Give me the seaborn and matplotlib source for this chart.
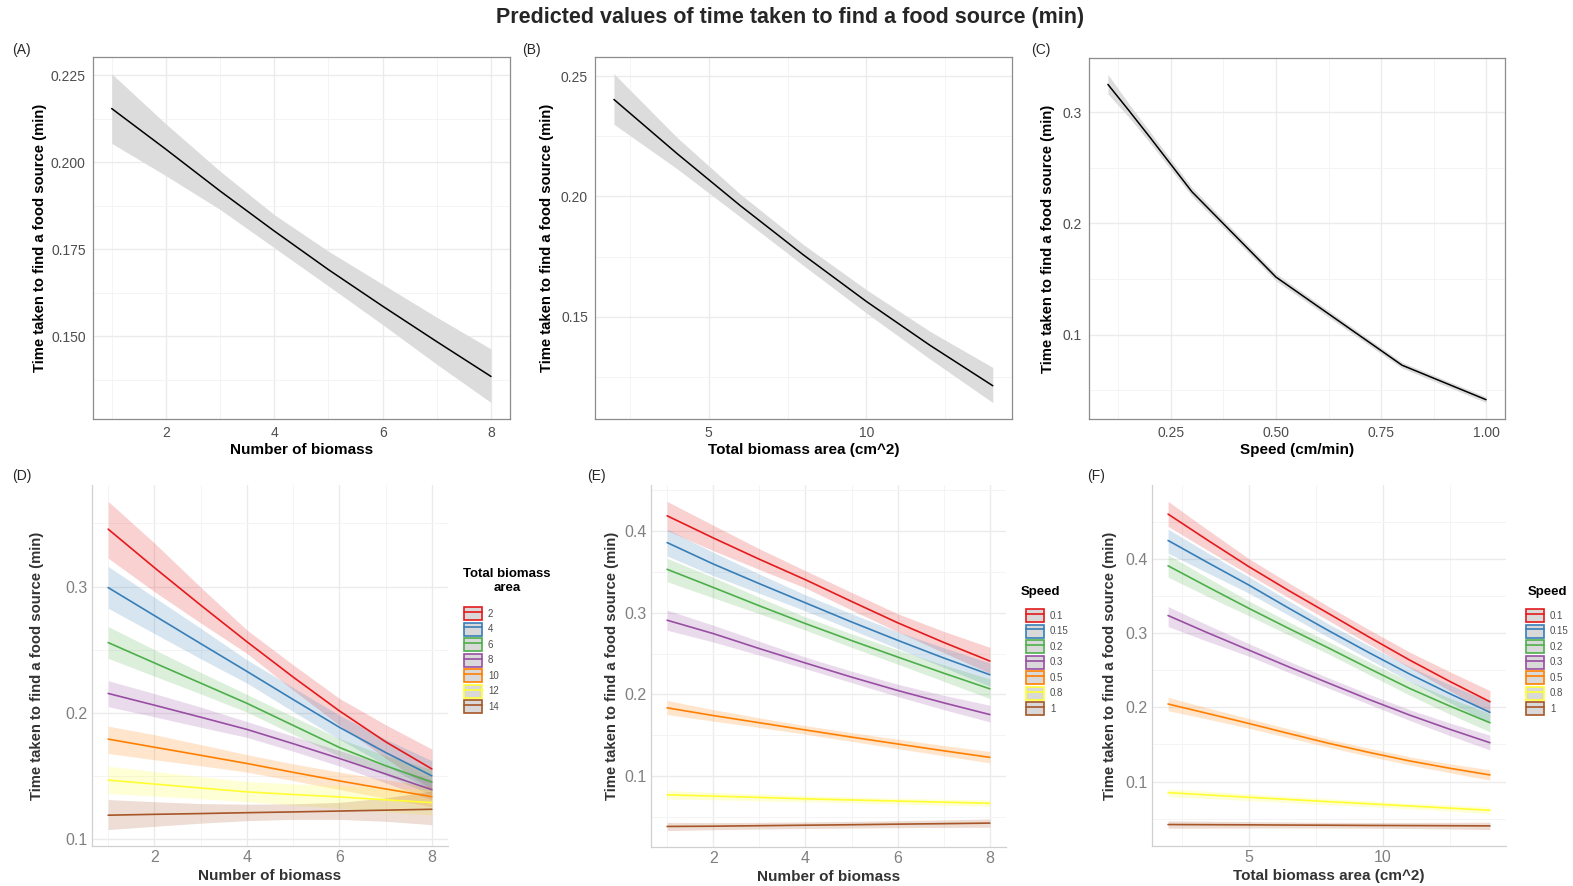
import matplotlib
matplotlib.use("Agg")
import matplotlib.pyplot as plt
from matplotlib.ticker import FixedLocator, MultipleLocator, FormatStrFormatter
from matplotlib.patches import Patch
from matplotlib.lines import Line2D
import seaborn as sns
import pandas as pd

# ---------------- data ----------------
A_x = [1, 2, 3, 4, 5, 6, 7, 8]
A_fit = [0.2155, 0.2038, 0.1918, 0.1803, 0.1692, 0.1587, 0.1485, 0.1385]
A_lo = [0.2055, 0.1962, 0.1865, 0.1755, 0.1645, 0.1534, 0.1420, 0.1310]
A_hi = [0.2255, 0.2111, 0.1975, 0.1850, 0.1745, 0.1650, 0.1555, 0.1464]

B_x = [2, 4, 6, 8, 10, 12, 14]
B_fit = [0.2403, 0.2178, 0.1962, 0.1757, 0.1563, 0.1382, 0.1213]
B_lo = [0.2300, 0.2115, 0.1915, 0.1713, 0.1515, 0.1325, 0.1143]
B_hi = [0.2510, 0.2245, 0.2010, 0.1800, 0.1612, 0.1440, 0.1289]

C_x = [0.1, 0.15, 0.2, 0.3, 0.5, 0.8, 1.0]
C_fit = [0.3250, 0.3015, 0.2775, 0.2285, 0.1518, 0.0726, 0.0416]
C_lo = [0.3165, 0.2955, 0.2725, 0.2245, 0.1485, 0.0700, 0.0390]
C_hi = [0.3340, 0.3075, 0.2825, 0.2325, 0.1550, 0.0752, 0.0442]

D_levels = ["2", "4", "6", "8", "10", "12", "14"]
D_x = [1, 2, 3, 4, 5, 6, 7, 8]
D_fit = [
    [0.3455, 0.3150, 0.2853, 0.2563, 0.2283, 0.2015, 0.1770, 0.1555],
    [0.2992, 0.2770, 0.2548, 0.2328, 0.2105, 0.1885, 0.1685, 0.1500],
    [0.2556, 0.2395, 0.2235, 0.2075, 0.1900, 0.1725, 0.1580, 0.1450],
    [0.2153, 0.2060, 0.1965, 0.1868, 0.1755, 0.1638, 0.1515, 0.1390],
    [0.1791, 0.1727, 0.1663, 0.1598, 0.1528, 0.1460, 0.1396, 0.1335],
    [0.1466, 0.1435, 0.1404, 0.1373, 0.1352, 0.1333, 0.1310, 0.1288],
    [0.1188, 0.1195, 0.1201, 0.1208, 0.1214, 0.1221, 0.1228, 0.1235],
]
D_lo = [
    [0.3225, 0.2960, 0.2712, 0.2471, 0.2180, 0.1902, 0.1640, 0.1390],
    [0.2828, 0.2628, 0.2428, 0.2235, 0.2010, 0.1790, 0.1585, 0.1380],
    [0.2431, 0.2290, 0.2150, 0.2005, 0.1830, 0.1655, 0.1505, 0.1350],
    [0.2048, 0.1968, 0.1885, 0.1805, 0.1695, 0.1578, 0.1445, 0.1310],
    [0.1677, 0.1628, 0.1580, 0.1530, 0.1462, 0.1392, 0.1322, 0.1255],
    [0.1360, 0.1340, 0.1318, 0.1295, 0.1268, 0.1242, 0.1216, 0.1190],
    [0.1074, 0.1100, 0.1125, 0.1145, 0.1155, 0.1155, 0.1140, 0.1113],
]
D_hi = [
    [0.3675, 0.3345, 0.2995, 0.2656, 0.2380, 0.2114, 0.1905, 0.1712],
    [0.3159, 0.2915, 0.2670, 0.2420, 0.2200, 0.1980, 0.1790, 0.1620],
    [0.2683, 0.2500, 0.2320, 0.2145, 0.1970, 0.1795, 0.1660, 0.1550],
    [0.2254, 0.2152, 0.2045, 0.1930, 0.1815, 0.1700, 0.1585, 0.1470],
    [0.1894, 0.1826, 0.1748, 0.1668, 0.1595, 0.1530, 0.1470, 0.1415],
    [0.1577, 0.1535, 0.1495, 0.1456, 0.1436, 0.1426, 0.1408, 0.1390],
    [0.1312, 0.1295, 0.1280, 0.1275, 0.1278, 0.1290, 0.1325, 0.1380],
]

S_levels = ["0.1", "0.15", "0.2", "0.3", "0.5", "0.8", "1"]
E_x = [1, 2, 3, 4, 5, 6, 7, 8]
E_fit = [
    [0.4180, 0.3910, 0.3650, 0.3400, 0.3135, 0.2875, 0.2635, 0.2408],
    [0.3853, 0.3592, 0.3352, 0.3118, 0.2885, 0.2661, 0.2445, 0.2241],
    [0.3527, 0.3306, 0.3082, 0.2865, 0.2658, 0.2457, 0.2260, 0.2069],
    [0.2906, 0.2743, 0.2560, 0.2384, 0.2212, 0.2049, 0.1898, 0.1755],
    [0.1837, 0.1743, 0.1655, 0.1567, 0.1480, 0.1396, 0.1313, 0.1233],
    [0.0776, 0.0760, 0.0744, 0.0727, 0.0713, 0.0700, 0.0686, 0.0673],
    [0.0390, 0.0393, 0.0399, 0.0405, 0.0411, 0.0418, 0.0424, 0.0431],
]
E_lo = [
    [0.4000, 0.3755, 0.3525, 0.3300, 0.3030, 0.2765, 0.2510, 0.2260],
    [0.3690, 0.3450, 0.3235, 0.3020, 0.2790, 0.2560, 0.2330, 0.2100],
    [0.3376, 0.3180, 0.2985, 0.2785, 0.2575, 0.2370, 0.2160, 0.1950],
    [0.2784, 0.2640, 0.2480, 0.2315, 0.2145, 0.1975, 0.1815, 0.1665],
    [0.1755, 0.1675, 0.1598, 0.1515, 0.1428, 0.1340, 0.1252, 0.1165],
    [0.0725, 0.0715, 0.0703, 0.0690, 0.0678, 0.0665, 0.0650, 0.0635],
    [0.0340, 0.0350, 0.0358, 0.0365, 0.0370, 0.0375, 0.0378, 0.0380],
]
E_hi = [
    [0.4355, 0.4065, 0.3778, 0.3510, 0.3245, 0.2985, 0.2770, 0.2575],
    [0.4016, 0.3735, 0.3470, 0.3215, 0.2985, 0.2765, 0.2570, 0.2385],
    [0.3660, 0.3430, 0.3185, 0.2945, 0.2740, 0.2545, 0.2360, 0.2190],
    [0.3029, 0.2845, 0.2650, 0.2455, 0.2285, 0.2125, 0.1990, 0.1869],
    [0.1927, 0.1815, 0.1715, 0.1620, 0.1535, 0.1455, 0.1378, 0.1305],
    [0.0828, 0.0805, 0.0785, 0.0765, 0.0750, 0.0735, 0.0722, 0.0712],
    [0.0440, 0.0437, 0.0440, 0.0445, 0.0452, 0.0460, 0.0470, 0.0482],
]

F_x = [2, 3.5, 5, 6.5, 8, 9.5, 11, 12.5, 14]
F_fit = [
    [0.4602, 0.4245, 0.3897, 0.3572, 0.3260, 0.2945, 0.2638, 0.2350, 0.2076],
    [0.4247, 0.3945, 0.3649, 0.3335, 0.3030, 0.2735, 0.2450, 0.2185, 0.1933],
    [0.3906, 0.3618, 0.3335, 0.3062, 0.2796, 0.2522, 0.2256, 0.2018, 0.1793],
    [0.3236, 0.3000, 0.2773, 0.2545, 0.2324, 0.2105, 0.1897, 0.1705, 0.1524],
    [0.2045, 0.1915, 0.1784, 0.1648, 0.1515, 0.1393, 0.1279, 0.1180, 0.1090],
    [0.0852, 0.0820, 0.0789, 0.0760, 0.0730, 0.0701, 0.0672, 0.0643, 0.0614],
    [0.0422, 0.0420, 0.0418, 0.0415, 0.0413, 0.0410, 0.0408, 0.0406, 0.0404],
]
F_lo = [
    [0.4436, 0.4110, 0.3790, 0.3475, 0.3165, 0.2850, 0.2535, 0.2225, 0.1919],
    [0.4076, 0.3805, 0.3540, 0.3240, 0.2940, 0.2645, 0.2350, 0.2065, 0.1790],
    [0.3753, 0.3490, 0.3235, 0.2975, 0.2715, 0.2440, 0.2165, 0.1910, 0.1670],
    [0.3088, 0.2885, 0.2690, 0.2470, 0.2255, 0.2040, 0.1825, 0.1620, 0.1425],
    [0.1955, 0.1840, 0.1720, 0.1590, 0.1460, 0.1340, 0.1225, 0.1120, 0.1020],
    [0.0800, 0.0772, 0.0745, 0.0718, 0.0690, 0.0662, 0.0635, 0.0603, 0.0570],
    [0.0372, 0.0374, 0.0375, 0.0375, 0.0375, 0.0372, 0.0368, 0.0362, 0.0354],
]
F_hi = [
    [0.4773, 0.4385, 0.4005, 0.3675, 0.3355, 0.3045, 0.2745, 0.2480, 0.2225],
    [0.4400, 0.4075, 0.3760, 0.3435, 0.3120, 0.2830, 0.2550, 0.2305, 0.2075],
    [0.4054, 0.3740, 0.3435, 0.3150, 0.2880, 0.2610, 0.2350, 0.2125, 0.1915],
    [0.3357, 0.3105, 0.2860, 0.2620, 0.2395, 0.2175, 0.1970, 0.1790, 0.1625],
    [0.2135, 0.1990, 0.1850, 0.1710, 0.1570, 0.1450, 0.1335, 0.1240, 0.1160],
    [0.0905, 0.0870, 0.0835, 0.0802, 0.0770, 0.0740, 0.0710, 0.0685, 0.0660],
    [0.0472, 0.0467, 0.0462, 0.0457, 0.0452, 0.0450, 0.0450, 0.0451, 0.0454],
]

# ticks
A_xticks, A_yticks = [2, 4, 6, 8], [0.150, 0.175, 0.200, 0.225]
B_xticks, B_yticks = [5, 10], [0.15, 0.20, 0.25]
C_xticks, C_yticks = [0.25, 0.50, 0.75, 1.00], [0.1, 0.2, 0.3]
D_xticks, D_yticks = [2, 4, 6, 8], [0.1, 0.2, 0.3]
E_xticks, E_yticks = [2, 4, 6, 8], [0.1, 0.2, 0.3, 0.4]
F_xticks, F_yticks = [5, 10], [0.1, 0.2, 0.3, 0.4, 0.5]

TITLE = "Predicted values of time taken to find a food source (min)"
YLAB = "Time taken to find a food source (min)"

# ---------------- style ----------------
sns.set_style("white")
plt.rcParams["font.family"] = ["Liberation Sans", "DejaVu Sans"]

W, H = 1573, 886
fig = plt.figure(figsize=(W / 100, H / 100), dpi=100)
pal = sns.color_palette("Set1", 7)


def add_ax(l, t, r, b):
    return fig.add_axes([l / W, 1 - b / H, (r - l) / W, (b - t) / H])


def style_grid(ax, xmaj, ymaj, xminor, yminor):
    ax.xaxis.set_major_locator(FixedLocator(xmaj))
    ax.yaxis.set_major_locator(FixedLocator(ymaj))
    ax.xaxis.set_minor_locator(MultipleLocator(xminor))
    ax.yaxis.set_minor_locator(MultipleLocator(yminor))
    ax.grid(True, which="major", color="#ebebeb", lw=1.0)
    ax.grid(True, which="minor", color="#f4f4f4", lw=0.7)
    ax.set_axisbelow(True)


def top_panel(ax, x, fit, lo, hi, xlab, xt, yt, xminor, yminor, xfmt, yfmt, ylx):
    ax.fill_between(x, lo, hi, color="#dcdcdc", lw=0)
    sns.lineplot(x=x, y=fit, color="black", lw=1.1, ax=ax, sort=False)
    ax.margins(x=0.05, y=0.05)
    style_grid(ax, xt, yt, xminor, yminor)
    ax.xaxis.set_major_formatter(FormatStrFormatter(xfmt))
    ax.yaxis.set_major_formatter(FormatStrFormatter(yfmt))
    for s in ax.spines.values():
        s.set_color("#8c8c8c")
        s.set_linewidth(0.9)
    ax.tick_params(axis="both", which="major", labelsize=10, colors="#4d4d4d",
                   length=3, width=0.8, pad=2)
    ax.tick_params(axis="both", which="minor", length=0)
    ax.set_xlabel(xlab, fontsize=11, fontweight="bold", color="black")
    ax.set_ylabel(YLAB, fontsize=10.75, fontweight="bold", color="black")
    ax.xaxis.set_label_coords(0.5, -0.067)
    ax.yaxis.set_label_coords(ylx, 0.5)


def bottom_panel(ax, x, fits, los, his, levels, xlab, xt, yt, xminor, yminor, ylx):
    rows = []
    for lev, f in zip(levels, fits):
        for xi, yi in zip(x, f):
            rows.append({"x": xi, "y": yi, "lev": lev})
    df = pd.DataFrame(rows)
    for i, (lo, hi) in enumerate(zip(los, his)):
        ax.fill_between(x, lo, hi, color=pal[i], alpha=0.2, lw=0)
    sns.lineplot(data=df, x="x", y="y", hue="lev", hue_order=levels,
                 palette=pal, lw=1.2, ax=ax, legend=False, sort=False, estimator=None)
    ax.margins(x=0.05, y=0.05)
    style_grid(ax, xt, yt, xminor, yminor)
    ax.xaxis.set_major_formatter(FormatStrFormatter("%g"))
    ax.yaxis.set_major_formatter(FormatStrFormatter("%g"))
    for side in ["top", "right"]:
        ax.spines[side].set_visible(False)
    for side in ["left", "bottom"]:
        ax.spines[side].set_color("#d0d0d0")
        ax.spines[side].set_linewidth(0.9)
    ax.tick_params(axis="both", which="both", length=0, labelsize=11.5,
                   colors="#808080", pad=3)
    ax.set_xlabel(xlab, fontsize=11, fontweight="bold", color="#333333")
    ax.set_ylabel(YLAB, fontsize=10.75, fontweight="bold", color="#333333")
    ax.xaxis.set_label_coords(0.5, -0.063)
    ax.yaxis.set_label_coords(ylx, 0.5)


def add_legend(ax, levels, key_left, key_top, title, title_x, title_y):
    handles = [(Patch(facecolor="#d9d9d9", edgecolor=pal[i], lw=1.2),
                Line2D([], [], color=pal[i], lw=1.2)) for i in range(len(levels))]
    leg = ax.legend(handles, levels, loc="upper left",
                    bbox_to_anchor=(key_left / W, 1 - key_top / H),
                    bbox_transform=fig.transFigure, frameon=False,
                    fontsize=7, handlelength=1.85, handleheight=1.7,
                    labelspacing=0.25, handletextpad=0.6, borderpad=0,
                    borderaxespad=0)
    for t in leg.get_texts():
        t.set_color("#4d4d4d")
    fig.text(title_x / W, 1 - title_y / H, title, ha="center", va="center",
             fontsize=9.5, fontweight="bold", color="black", multialignment="center",
             linespacing=1.2)


axA = add_ax(92.7, 57.3, 510, 419)
axB = add_ax(595, 57.3, 1011.7, 419)
axC = add_ax(1089, 58, 1505, 419)
axD = add_ax(92, 485, 448, 846)
axE = add_ax(651, 485, 1006, 847)
axF = add_ax(1152, 485, 1506, 846)

top_panel(axA, A_x, A_fit, A_lo, A_hi, "Number of biomass", A_xticks, A_yticks,
          1, 0.0125, "%d", "%.3f", -0.1095)
top_panel(axB, B_x, B_fit, B_lo, B_hi, "Total biomass area (cm^2)", B_xticks, B_yticks,
          2.5, 0.025, "%d", "%.2f", -0.098)
top_panel(axC, C_x, C_fit, C_lo, C_hi, "Speed (cm/min)", C_xticks, C_yticks,
          0.125, 0.05, "%.2f", "%.1f", -0.082)

bottom_panel(axD, D_x, D_fit, D_lo, D_hi, D_levels, "Number of biomass",
             D_xticks, D_yticks, 1, 0.05, -0.135)
bottom_panel(axE, E_x, E_fit, E_lo, E_hi, S_levels, "Number of biomass",
             E_xticks, E_yticks, 1, 0.05, -0.09)
bottom_panel(axF, F_x, F_fit, F_lo, F_hi, S_levels, "Total biomass area (cm^2)",
             F_xticks, F_yticks, 2.5, 0.05, -0.099)

add_legend(axD, D_levels, 464, 607, "Total biomass\narea", 507, 581)
add_legend(axE, S_levels, 1026, 609, "Speed", 1040, 592)
add_legend(axF, S_levels, 1526, 609, "Speed", 1547, 592)

fig.text(790 / W, 1 - 18 / H, TITLE, ha="center", va="center",
         fontsize=15.5, fontweight="bold")
for lab, x, y in [("(A)", 12, 50), ("(B)", 522, 50), ("(C)", 1031, 50),
                  ("(D)", 12, 476), ("(E)", 587, 476), ("(F)", 1087, 476)]:
    fig.text(x / W, 1 - y / H, lab, ha="left", va="center", fontsize=10)

fig.savefig("out.png", dpi=100)
